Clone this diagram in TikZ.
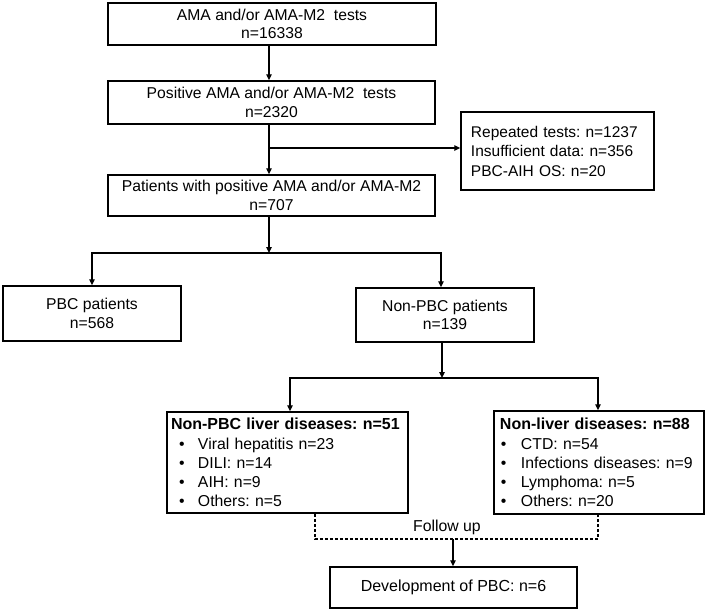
\documentclass[tikz,border=0pt]{standalone}
\usepackage{fontspec}
\setmainfont{Liberation Sans}
\usetikzlibrary{arrows.meta}
\frenchspacing
\newcommand{\oneline}[1]{\mbox{#1}}
\begin{document}
\begin{tikzpicture}[x=0.5pt,y=-0.5pt,
  box/.style={draw, line width=0.75pt, inner sep=0pt, align=center, font=\fontsize{7.85}{9.2}\selectfont},
  lbox/.style={draw, line width=0.75pt, inner ysep=0pt, align=left, font=\fontsize{7.9}{9.6}\selectfont},
  arr/.style={line width=0.65pt, -{Triangle[length=3pt,width=2.8pt]}},
  arrb/.style={line width=0.65pt, {Triangle[length=3pt,width=2.8pt]}-{Triangle[length=3pt,width=2.8pt]}},
  dsh/.style={line width=0.6pt, dash pattern=on 1.5pt off 1pt},
  lbl/.style={inner sep=0pt, font=\fontsize{7.9}{9.2}\selectfont}]
\useasboundingbox (0,0) rectangle (709,612);

\node[box, minimum width=164pt, minimum height=21pt] (b1) at (272,24) {AMA and/or AMA-M2\ \ tests\\n=16338};
\node[box, minimum width=163.5pt, minimum height=21.5pt] (b2) at (271.5,102.5) {Positive AMA and/or AMA-M2\ \ tests\\n=2320};
\node[box, minimum width=163.5pt, minimum height=20.5pt] (b3) at (271.5,195.5) {Patients with positive AMA and/or AMA-M2\\n=707};
\node[lbox, font=\fontsize{7.75}{9.75}\selectfont, inner xsep=5pt, text width=86.5pt, minimum height=39pt] (ex) at (557.5,151)
  {\oneline{Repeated tests: n=1237}\\\oneline{Insufficient data: n=356}\\\oneline{PBC-AIH OS: n=20}};
\node[box, minimum width=89pt, minimum height=27.5pt] (pbc) at (92,313.5) {PBC patients\\n=568};
\node[box, minimum width=89pt, minimum height=27pt] (npbc) at (445,315) {Non-PBC patients\\n=139};
\node[lbox, inner xsep=2pt, text width=116.5pt, minimum height=50.5pt] (lv) at (287.5,462.5)
  {\oneline{\fontsize{8}{9.6}\selectfont\bfseries Non-PBC liver diseases: n=51}\\
   \oneline{\hspace*{4pt}\makebox[9.5pt][l]{\textbullet}Viral hepatitis n=23}\\
   \oneline{\hspace*{4pt}\makebox[9.5pt][l]{\textbullet}DILI: n=14}\\
   \oneline{\hspace*{4pt}\makebox[9.5pt][l]{\textbullet}AIH: n=9}\\
   \oneline{\hspace*{4pt}\makebox[9.5pt][l]{\textbullet}Others: n=5}};
\node[lbox, inner xsep=3pt, text width=99pt, minimum height=51.5pt] (nl) at (599,462.5)
  {\oneline{\fontsize{8}{9.6}\selectfont\bfseries Non-liver diseases: n=88}\\
   \oneline{\hspace*{0.5pt}\makebox[10pt][l]{\textbullet}CTD: n=54}\\
   \oneline{\hspace*{0.5pt}\makebox[10pt][l]{\textbullet}Infections diseases: n=9}\\
   \oneline{\hspace*{0.5pt}\makebox[10pt][l]{\textbullet}Lymphoma: n=5}\\
   \oneline{\hspace*{0.5pt}\makebox[10pt][l]{\textbullet}Others: n=20}};
\node[box, font=\fontsize{8}{9.2}\selectfont, minimum width=123.5pt, minimum height=20.5pt] (dev) at (453.5,587.5) {Development of PBC: n=6};
\node[lbl] (fu) at (447,527) {Follow up};

% main column
\coordinate (xa) at (269,0);
\draw[arr] (b1.south -| xa) -- (b2.north -| xa);
\draw[arr] (b2.south -| xa) -- (b3.north -| xa);
\coordinate (j1) at (269,148);
\draw[arr] (j1) -- (j1 -| ex.west);
\coordinate (j2) at (269,253);
\draw[arr] (b3.south -| xa) -- (j2);
\coordinate (jl) at (92,253);
\coordinate (jr) at (441,253);
\draw[arrb] (pbc.north -| jl) -- (jl) -- (jr) -- (npbc.north -| jr);

% second split
\coordinate (j3) at (442,378);
\draw[arr] (npbc.south -| j3) -- (j3);
\coordinate (kl) at (290,378);
\coordinate (kr) at (598,378);
\draw[arrb] (lv.north -| kl) -- (kl) -- (kr) -- (nl.north -| kr);

% follow up
\coordinate (dl) at (315,539);
\coordinate (dr) at (598,539);
\draw[dsh] (lv.south -| dl) -- (dl) -- (dr) -- (nl.south -| dr);
\coordinate (df) at (453,539);
\draw[arr] (df) -- (dev.north -| df);
\end{tikzpicture}
\end{document}
